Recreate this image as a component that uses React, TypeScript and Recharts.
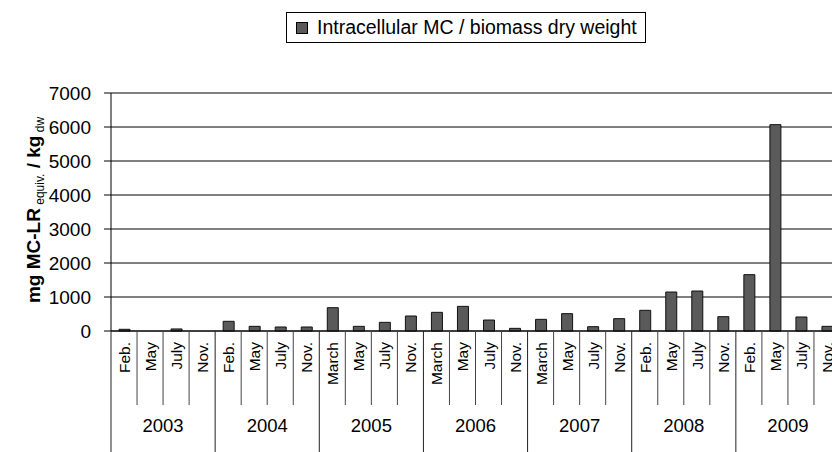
import { Bar, BarChart, CartesianGrid, Legend, XAxis, YAxis } from 'recharts';

const years = ['2003', '2004', '2005', '2006', '2007', '2008', '2009'];

const months = [
  'Feb.', 'May', 'July', 'Nov.',
  'Feb.', 'May', 'July', 'Nov.',
  'March', 'May', 'July', 'Nov.',
  'March', 'May', 'July', 'Nov.',
  'March', 'May', 'July', 'Nov.',
  'Feb.', 'May', 'July', 'Nov.',
  'Feb.', 'May', 'July', 'Nov.',
];

const values = [
  50, 0, 60, 0,
  285, 137, 118, 118,
  686, 137, 255, 441,
  549, 725, 323, 78,
  343, 510, 127, 363,
  608, 1147, 1176, 421,
  1657, 6069, 412, 137,
];

const yTicks = [0, 1000, 2000, 3000, 4000, 5000, 6000, 7000];

const seriesName = 'Intracellular MC / biomass dry weight';

const data = months.map((month, i) => ({
  idx: i,
  month,
  year: years[Math.floor(i / 4)],
  value: values[i],
}));

const font = '"Liberation Sans", Arial, sans-serif';
const CHART_H = 452;

function MonthTick(props: any) {
  const { x, y, payload } = props;
  const i = Number(payload.value);
  const half = payload.offset || 13;
  const left = x - half;
  const firstOfYear = i % 4 === 0;
  return (
    <g>
      <line
        x1={left}
        y1={y}
        x2={left}
        y2={firstOfYear ? CHART_H : y + 74}
        stroke={firstOfYear ? '#222' : '#444'}
        strokeWidth={1}
      />
      {i === months.length - 1 && (
        <line x1={x + half} y1={y} x2={x + half} y2={CHART_H} stroke="#222" />
      )}
      <text
        transform={`translate(${x + 6},${y + 11}) rotate(-90)`}
        textAnchor="end"
        fontSize={15.5}
        fontFamily={font}
        fill="#000"
      >
        {months[i]}
      </text>
      {i % 4 === 1 && (
        <text
          x={x + half}
          y={y + 101}
          textAnchor="middle"
          fontSize={18.5}
          fontFamily={font}
          fill="#000"
        >
          {years[Math.floor(i / 4)]}
        </text>
      )}
    </g>
  );
}

function YTitle(props: any) {
  const vb = props.viewBox || { y: 93, height: 238 };
  const cy = vb.y + vb.height / 2;
  return (
    <text
      transform={`translate(40,${cy - 2}) rotate(-90)`}
      textAnchor="middle"
      fontFamily={font}
      fill="#000"
    >
      <tspan fontSize={19} fontWeight="bold">mg MC-LR</tspan>
      <tspan fontSize={12} dy={4}>{' equiv.'}</tspan>
      <tspan fontSize={19} fontWeight="bold" dy={-4}>{' / kg'}</tspan>
      <tspan fontSize={12} dy={4}>{' dw'}</tspan>
    </text>
  );
}

function LegendBox(props: any) {
  const item = (props.payload && props.payload[0]) || { value: seriesName };
  return (
    <div
      style={{
        border: '1px solid #000',
        background: '#fff',
        display: 'flex',
        alignItems: 'center',
        padding: '4px 8px 4px 9px',
        fontFamily: font,
        fontSize: 19.5,
        lineHeight: '21px',
        color: '#000',
        whiteSpace: 'nowrap',
      }}
    >
      <span
        style={{
          display: 'inline-block',
          width: 10,
          height: 10,
          background: '#5a5a5a',
          border: '1px solid #000',
          marginRight: 9,
        }}
      />
      {item.value}
    </div>
  );
}

export default function App() {
  return (
    <div
      style={{
        position: 'absolute',
        left: 0,
        top: 0,
        width: 832,
        height: CHART_H,
        overflow: 'hidden',
        background: '#fff',
      }}
    >
      <BarChart
        width={860}
        height={CHART_H}
        data={data}
        margin={{ top: 93, right: 20, left: 0, bottom: 0 }}
      >
        <CartesianGrid vertical={false} stroke="#000" />
        <XAxis
          dataKey="idx"
          interval={0}
          tickLine={false}
          tickSize={0}
          tickMargin={0}
          axisLine={{ stroke: '#000' }}
          tick={<MonthTick />}
          height={121}
        />
        <YAxis
          width={111}
          domain={[0, 7000]}
          ticks={yTicks}
          interval={0}
          tickSize={7}
          tickMargin={13}
          tickLine={{ stroke: '#000' }}
          axisLine={{ stroke: '#000' }}
          tick={{ fill: '#000', fontSize: 19, fontFamily: font }}
          label={{ value: 'y', content: YTitle }}
        />
        <Legend
          layout="horizontal"
          verticalAlign="middle"
          align="center"
          wrapperStyle={{ top: 12, left: 286, width: 'auto', height: 'auto' }}
          content={<LegendBox />}
        />
        <Bar
          dataKey="value"
          name={seriesName}
          fill="#5a5a5a"
          stroke="#111"
          strokeWidth={1}
          barSize={11}
          isAnimationActive={false}
        />
      </BarChart>
    </div>
  );
}
